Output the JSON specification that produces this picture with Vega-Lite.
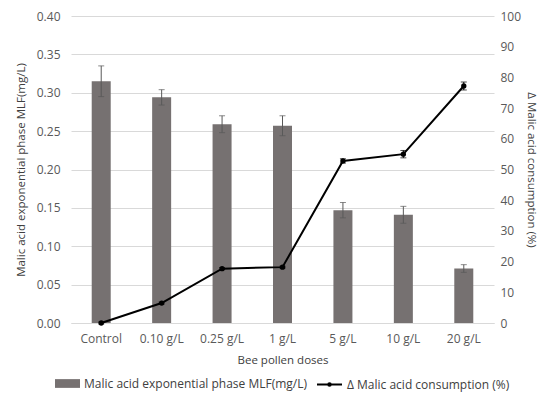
{
  "$schema": "https://vega.github.io/schema/vega-lite/v6.json",
  "width": 423,
  "height": 307,
  "padding": {"left": 15, "top": 10, "right": 2, "bottom": 5},
  "data": {
    "values": [
      {"dose": "Control", "malic": 0.315, "malic_err": 0.020, "cons": 0.0, "cons_err": 0.3},
      {"dose": "0.10 g/L", "malic": 0.294, "malic_err": 0.010, "cons": 6.5, "cons_err": 0.3},
      {"dose": "0.25 g/L", "malic": 0.259, "malic_err": 0.011, "cons": 17.7, "cons_err": 0.3},
      {"dose": "1 g/L", "malic": 0.257, "malic_err": 0.013, "cons": 18.2, "cons_err": 0.3},
      {"dose": "5 g/L", "malic": 0.147, "malic_err": 0.010, "cons": 52.8, "cons_err": 0.7},
      {"dose": "10 g/L", "malic": 0.141, "malic_err": 0.011, "cons": 55.0, "cons_err": 1.2},
      {"dose": "20 g/L", "malic": 0.071, "malic_err": 0.005, "cons": 77.2, "cons_err": 1.3}
    ]
  },
  "encoding": {
    "x": {
      "field": "dose",
      "type": "nominal",
      "sort": null,
      "title": "Bee pollen doses",
      "scale": {"paddingInner": 0, "paddingOuter": 0},
      "axis": {"labelAngle": 0, "ticks": false, "domainColor": "#d9d9d9", "labelPadding": 10, "titlePadding": 10}
    }
  },
  "layer": [
    {
      "encoding": {
        "y": {
          "field": "malic",
          "type": "quantitative",
          "title": "Malic acid exponential phase MLF(mg/L)",
          "scale": {"domain": [0, 0.4]},
          "axis": {"format": ".2f", "values": [0, 0.05, 0.1, 0.15, 0.2, 0.25, 0.3, 0.35, 0.4], "grid": true, "domain": false, "ticks": false, "labelPadding": 11, "labelOverlap": false, "titlePadding": 10}
        }
      },
      "layer": [
        {
          "mark": {"type": "bar", "size": 19},
          "encoding": {
            "fill": {
              "datum": "Malic acid exponential phase MLF(mg/L)",
              "scale": {"range": ["#767171"]},
              "legend": {"symbolType": "M-1,-0.35H1V0.35H-1Z", "symbolSize": 625, "symbolStrokeWidth": 0, "title": null}
            }
          }
        },
        {
          "mark": {"type": "errorbar", "ticks": {"size": 6, "color": "#595959"}, "rule": {"color": "#595959"}},
          "encoding": {
            "yError": {"field": "malic_err"}
          }
        }
      ]
    },
    {
      "encoding": {
        "y": {
          "field": "cons",
          "type": "quantitative",
          "title": "Δ Malic acid consumption (%)",
          "scale": {"domain": [0, 100]},
          "axis": {"orient": "right", "grid": false, "domain": false, "ticks": false, "values": [0, 10, 20, 30, 40, 50, 60, 70, 80, 90, 100], "labelPadding": 6, "labelOverlap": false, "titlePadding": 5}
        }
      },
      "layer": [
        {
          "mark": {"type": "line", "color": "black", "strokeWidth": 2},
          "encoding": {
            "stroke": {
              "datum": "Δ Malic acid consumption (%)",
              "scale": {"range": ["black"]},
              "legend": {"symbolType": "M-1,0H1M-0.1,0a0.1,0.1 0 1,0 0.2,0a0.1,0.1 0 1,0 -0.2,0", "symbolSize": 625, "symbolStrokeWidth": 2, "title": null}
            }
          }
        },
        {
          "mark": {"type": "point", "filled": true, "color": "black", "size": 28, "opacity": 1},
          "encoding": {}
        },
        {
          "mark": {"type": "errorbar", "ticks": {"size": 6, "color": "black"}, "rule": {"color": "black"}},
          "encoding": {
            "yError": {"field": "cons_err"}
          }
        }
      ]
    }
  ],
  "resolve": {"scale": {"y": "independent"}},
  "config": {
    "view": {"stroke": null},
    "font": "Open Sans",
    "axis": {
      "labelColor": "#595959",
      "titleColor": "#404040",
      "labelFontSize": 12,
      "titleFontSize": 11.5,
      "titleFontWeight": "normal",
      "gridColor": "#d9d9d9",
      "gridWidth": 1
    },
    "legend": {
      "orient": "bottom",
      "direction": "horizontal",
      "labelFontSize": 12,
      "labelColor": "#404040",
      "labelLimit": 400,
      "offset": 5,
      "layout": {"bottom": {"anchor": "middle"}}
    }
  }
}
